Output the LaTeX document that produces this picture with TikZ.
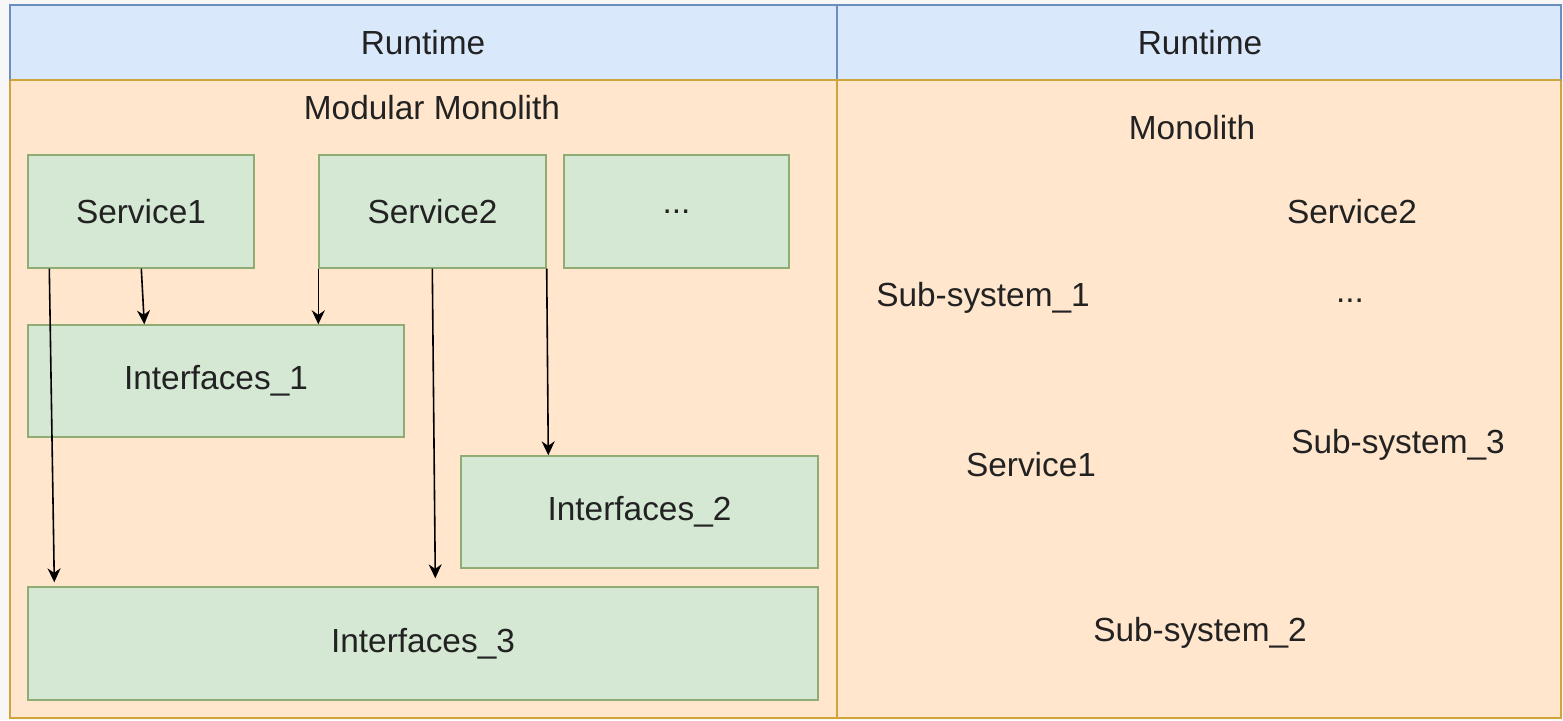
\documentclass[tikz,border=0pt]{standalone}
\usepackage{fontspec}
\setmainfont{Liberation Sans}
\usetikzlibrary{calc,arrows.meta}
\definecolor{hdrfill}{HTML}{DAE8FC}
\definecolor{hdrline}{HTML}{6C8EBF}
\definecolor{bodyfill}{HTML}{FFE6CC}
\definecolor{bodyline}{HTML}{CFA43A}
\definecolor{boxfill}{HTML}{D5E8D4}
\definecolor{boxline}{HTML}{8EAC74}
\definecolor{txt}{HTML}{222222}
\definecolor{page}{HTML}{F7F7F7}
\begin{document}
\begin{tikzpicture}[x=0.5pt,y=-0.5pt,
  lbl/.style={font=\fontsize{16.7}{20}\selectfont, text=txt, inner sep=0pt},
  hdr/.style={draw=hdrline, fill=hdrfill, line width=0.75pt},
  body/.style={draw=bodyline, fill=bodyfill, line width=0.75pt},
  box/.style={draw=boxline, fill=boxfill, line width=0.7pt, lbl, inner sep=0pt, minimum height=56.5pt},
  arr/.style={draw=black, line width=0.8pt, -{Stealth[length=7pt,width=6.5pt]}}]
\useasboundingbox (0,0) rectangle (1563,720);
\fill[page] (0,0) rectangle (1563,720);

% table: header row and body row, two columns
\draw[body] (10,80) rectangle (837,718);
\draw[body] (837,80) rectangle (1561,718);
\draw[hdr] (10,5) rectangle (837,80);
\draw[hdr] (837,5) rectangle (1561,80);
\draw[bodyline, line width=0.75pt] (10,80) -- (1561,80);
\node[lbl] (rtL) at (423,43) {Runtime};
\node[lbl] (rtR) at (1200,43) {Runtime};

% left column: modular monolith
\node[lbl] (mm) at (432,108) {Modular Monolith};
\node[box, minimum width=113pt] (s1) at (141,211.5) {Service1};
\node[box, minimum width=113.5pt] (s2) at (432.5,211.5) {Service2};
\node[box, minimum width=112.5pt] (sd) at (676.5,211.5) {...};
\node[box, minimum width=188pt, minimum height=56pt] (i1) at (216,381) {Interfaces\_1};
\node[box, minimum width=178.5pt, minimum height=56pt] (i2) at (639.5,512) {Interfaces\_2};
\node[box, minimum width=395pt] (i3) at (423,643.5) {Interfaces\_3};

\draw[arr] ($(s1.south west)+(114,0)$) -- ($(i1.north west)+(117,0)$);
\draw[arr] (s2.south west) -- ($(i1.north west)+(291,0)$);
\draw[arr] ($(s1.south west)+(22,0)$) -- ($(i3.north west)+(27,-4)$);
\draw[arr] ($(s2.south west)+(114,0)$) -- ($(i3.north west)+(408,-8)$);
\draw[arr] (s2.south east) -- ($(i2.north west)+(88,0)$);

% right column: monolith
\node[lbl] (mo) at (1192,128) {Monolith};
\node[lbl] (rs2) at (1352,212) {Service2};
\node[lbl] (ss1) at (983,298) {Sub-system\_1};
\node[lbl] (rdots) at (1350,301) {...};
\node[lbl] (ss3) at (1398,445) {Sub-system\_3};
\node[lbl] (rs1) at (1031,465) {Service1};
\node[lbl] (ss2) at (1200,633) {Sub-system\_2};
\end{tikzpicture}
\end{document}
